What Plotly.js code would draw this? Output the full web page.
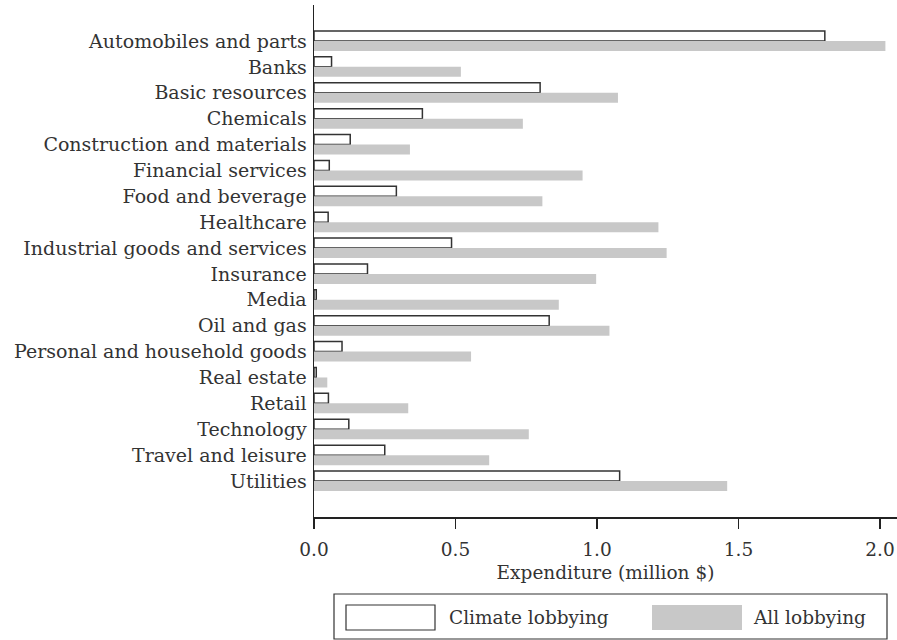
<!DOCTYPE html>
<html>
<head>
<meta charset="utf-8">
<script src="https://cdn.plot.ly/plotly-3.0.1.min.js"></script>
<style>html,body{margin:0;padding:0;background:#fff;}#chart{width:897px;height:640px;}</style>
</head>
<body>
<div id="chart"></div>
<script>
const sectors = ["Automobiles and parts","Banks","Basic resources","Chemicals","Construction and materials","Financial services","Food and beverage","Healthcare","Industrial goods and services","Insurance","Media","Oil and gas","Personal and household goods","Real estate","Retail","Technology","Travel and leisure","Utilities"];
const climateLobbying = [1.805,0.062,0.799,0.383,0.128,0.054,0.291,0.05,0.486,0.189,0.008,0.831,0.099,0.008,0.051,0.123,0.25,1.08];
const allLobbying = [2.019,0.519,1.074,0.738,0.339,0.949,0.807,1.217,1.246,0.997,0.865,1.044,0.555,0.047,0.333,0.759,0.619,1.46];
const xTicks = [0,0.5,1.0,1.5,2.0];
const xTickText = ["0.0","0.5","1.0","1.5","2.0"];
const legendNames = ["Climate lobbying","All lobbying"];

const font = "DejaVu Serif";
const traces = [
  {type:"bar", orientation:"h", name:legendNames[0], y:sectors, x:climateLobbying,
   marker:{color:"#ffffff", line:{color:"#333333", width:1.5}}, showlegend:false},
  {type:"bar", orientation:"h", name:legendNames[1], y:sectors, x:allLobbying,
   marker:{color:"#c8c8c8", line:{width:0}}, showlegend:false}
];
const n = sectors.length;
const layout = {
  width:897, height:640,
  margin:{l:314, r:0, t:5, b:123},
  paper_bgcolor:"#fff", plot_bgcolor:"#fff",
  font:{family:font, size:18.5, color:"#333"},
  barmode:"group", bargap:0.227, bargroupgap:0,
  xaxis:{range:[0,2.06], tickvals:xTicks, ticktext:xTickText, ticks:"outside", ticklen:10, tickwidth:1.5,
         tickcolor:"#222", showline:true, linecolor:"#222", linewidth:1.5, showgrid:false, zeroline:false,
         ticklabelstandoff:5, tickfont:{family:font,size:18.5,color:"#333"},
         title:{text:"Expenditure (million $)", standoff:7, font:{family:font,size:18.5,color:"#333"}}},
  yaxis:{type:"category", categoryorder:"array", categoryarray:sectors, range:[n-1+1.39, -1.39],
         showline:true, linecolor:"#222", linewidth:1.5, ticks:"", showgrid:false, zeroline:false,
         ticklabelstandoff:2, tickfont:{family:font,size:19,color:"#333"}},
  shapes:[
    {type:"rect", xref:"paper", yref:"paper", x0:(334-314)/583, x1:(887-314)/583, y0:(517-639)/512, y1:(517-594)/512,
     line:{color:"#333", width:1.2}, fillcolor:"rgba(0,0,0,0)"},
    {type:"rect", xref:"paper", yref:"paper", x0:(346-314)/583, x1:(435-314)/583, y0:(517-630)/512, y1:(517-605)/512,
     line:{color:"#333", width:1.2}, fillcolor:"#ffffff"},
    {type:"rect", xref:"paper", yref:"paper", x0:(652-314)/583, x1:(742-314)/583, y0:(517-630)/512, y1:(517-605)/512,
     line:{width:0}, fillcolor:"#c8c8c8"}
  ],
  annotations:[
    {xref:"paper", yref:"paper", x:(447-314)/583, y:(517-617.5)/512, xanchor:"left", yanchor:"middle",
     text:legendNames[0], showarrow:false, font:{family:font,size:18.5,color:"#333"}},
    {xref:"paper", yref:"paper", x:(751-314)/583, y:(517-617.5)/512, xanchor:"left", yanchor:"middle",
     text:legendNames[1], showarrow:false, font:{family:font,size:18.5,color:"#333"}}
  ]
};
Plotly.newPlot("chart", traces, layout, {staticPlot:true, displayModeBar:false});
</script>
</body>
</html>
